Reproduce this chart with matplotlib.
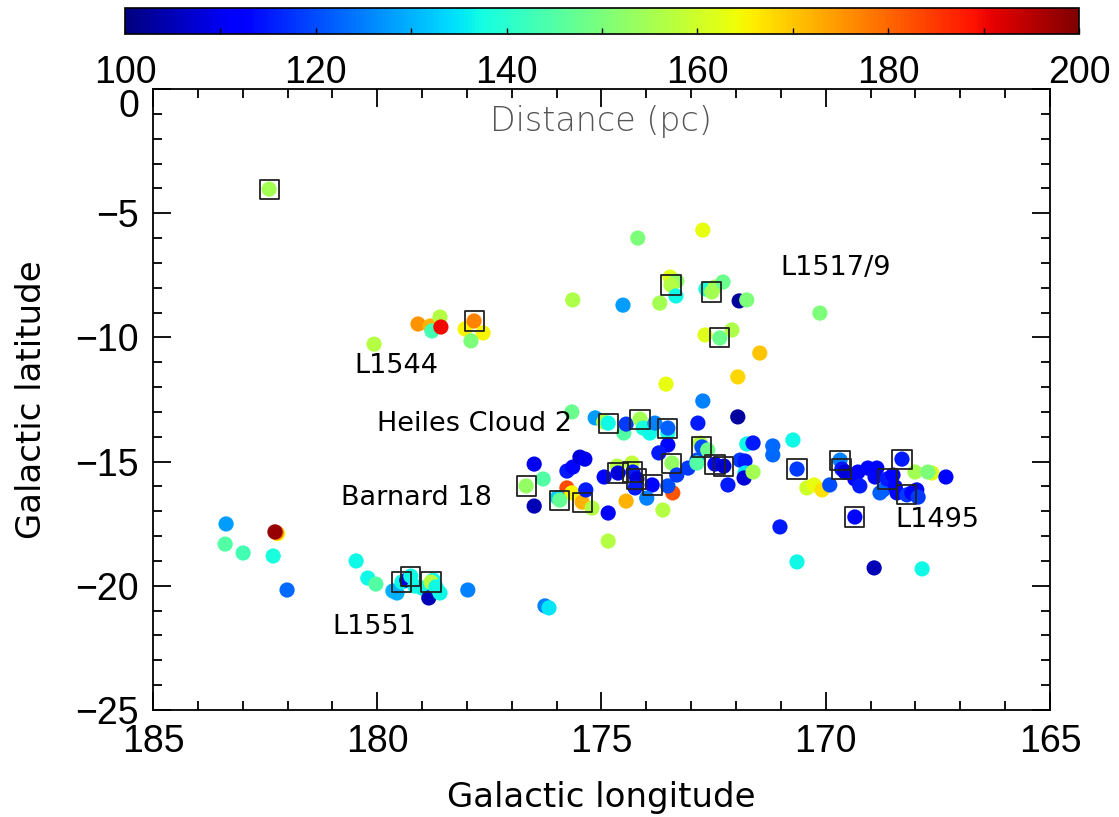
import numpy as np
import matplotlib
matplotlib.use("Agg")
import matplotlib.pyplot as plt
from matplotlib.ticker import MultipleLocator

# galactic longitude, latitude (deg), distance (pc), boxed flag
lon = [182.41,
       179.09, 178.82, 178.78, 178.60, 178.58, 180.07, 178.04, 177.84, 177.64, 177.91,
       174.19, 172.74, 173.47, 173.32, 173.45, 173.34, 174.52, 173.70, 172.67, 172.54,
       172.47, 172.29, 171.93, 171.76, 172.69, 172.36, 172.09, 171.47, 175.64, 171.96,
       173.56, 172.74, 171.96, 170.13,
       175.66, 175.14, 174.95, 174.85, 174.50, 174.45, 174.14, 174.07, 173.92, 173.81,
       173.52, 173.52, 173.52, 173.72, 172.85,
       176.50, 176.30, 176.68, 176.50, 175.77, 175.64, 175.48, 175.37, 175.77, 175.66,
       175.98, 175.93, 175.43, 175.35, 175.21, 174.85, 174.94, 174.65, 174.63, 174.32,
       174.30, 174.21, 174.25, 173.87, 173.99, 174.45, 173.63, 173.41, 173.52, 173.43,
       173.32, 173.07, 172.87, 172.80, 172.76, 172.63, 172.87, 172.47, 172.27, 172.18,
       174.85, 171.91, 171.80, 171.80, 171.82, 171.62, 171.76, 171.62, 171.18, 171.18,
       170.73, 170.64, 171.02, 170.42, 170.26, 170.08, 169.91, 169.68, 169.64, 169.57,
       169.35, 169.28, 169.35, 169.24, 169.06, 168.86, 168.90, 168.79, 168.72, 168.63,
       168.50, 168.45, 168.30, 168.41, 168.19, 168.08, 167.97, 167.94, 168.01, 167.63,
       167.72, 167.32, 170.64, 168.92, 167.85,
       183.37, 183.39, 182.99, 182.22, 182.25, 182.28, 182.32, 182.01, 180.47, 180.21,
       180.03, 179.65, 179.56, 179.45, 179.34, 179.25, 179.16, 179.00, 178.85, 178.75,
       178.80, 178.69, 178.60, 177.98, 176.26, 176.17]
lat = [-4.03,
       -9.46, -9.54, -9.74, -9.18, -9.58, -10.27, -9.66, -9.34, -9.82, -10.14,
       -6.00, -5.68, -7.57, -7.73, -7.89, -8.33, -8.70, -8.62, -8.05, -8.17,
       -7.97, -7.77, -8.53, -8.49, -9.90, -10.02, -9.70, -10.63, -8.49, -11.59,
       -11.88, -12.56, -13.20, -9.02,
       -13.00, -13.24, -13.40, -13.45, -13.85, -13.49, -13.29, -13.65, -13.85, -13.45,
       -13.85, -13.65, -14.33, -14.65, -13.45,
       -15.10, -15.70, -15.98, -16.79, -15.38, -15.22, -14.82, -14.90, -16.06, -16.26,
       -16.45, -16.55, -16.63, -16.14, -16.87, -17.07, -15.62, -15.18, -15.46, -15.06,
       -15.42, -15.70, -16.06, -15.94, -16.47, -16.59, -16.95, -16.26, -15.98, -15.06,
       -15.54, -15.26, -14.94, -14.25, -14.41, -14.53, -15.06, -15.10, -15.18, -15.94,
       -18.20, -14.94, -14.98, -15.46, -15.66, -15.42, -14.29, -14.25, -14.37, -14.73,
       -14.13, -15.30, -17.63, -16.06, -15.94, -16.14, -15.94, -14.94, -15.30, -15.42,
       -17.23, -15.42, -15.70, -15.98, -15.26, -15.26, -15.62, -16.26, -16.14, -15.70,
       -15.54, -16.02, -14.90, -16.26, -16.34, -16.26, -16.14, -16.43, -15.42, -15.46,
       -15.42, -15.62, -19.04, -19.28, -19.32,
       -17.51, -18.32, -18.68, -17.90, -17.86, -17.83, -18.80, -20.17, -19.00, -19.69,
       -19.93, -20.21, -20.29, -19.85, -19.77, -19.61, -20.01, -20.09, -20.49, -19.77,
       -19.85, -20.05, -20.29, -20.17, -20.81, -20.89]
dist = [155,
        175, 172, 143, 157, 190, 157, 165, 177, 165, 150,
        150, 163, 162, 152, 157, 137, 128, 155, 138, 155,
        155, 148, 103, 150, 162, 148, 156, 170, 156, 168,
        163, 125, 103, 150,
        148, 128, 157, 137, 145, 118, 155, 138, 137, 125,
        138, 122, 113, 115, 115,
        110, 145, 153, 105, 115, 113, 108, 110, 183, 165,
        133, 147, 172, 115, 157, 112, 113, 157, 108, 158,
        115, 108, 115, 113, 125, 172, 157, 182, 120, 153,
        118, 118, 120, 157, 120, 148, 145, 113, 107, 115,
        157, 118, 115, 135, 108, 155, 137, 115, 123, 123,
        137, 118, 115, 160, 163, 167, 120, 125, 115, 108,
        113, 113, 113, 115, 113, 113, 113, 122, 122, 115,
        113, 113, 115, 113, 118, 113, 113, 118, 155, 162,
        150, 113, 137, 105, 137,
        128, 145, 143, 165, 178, 198, 138, 123, 137, 137,
        145, 130, 130, 137, 108, 137, 137, 137, 105, 137,
        157, 137, 137, 125, 125, 135]
boxed = [1,
         0, 0, 0, 0, 0, 0, 0, 1, 0, 0,
         0, 0, 0, 0, 1, 0, 0, 0, 0, 1,
         0, 0, 0, 0, 0, 1, 0, 0, 0, 0,
         0, 0, 0, 0,
         0, 0, 0, 1, 0, 0, 1, 0, 0, 0,
         0, 1, 0, 0, 0,
         0, 0, 1, 0, 0, 0, 0, 0, 0, 0,
         0, 1, 1, 0, 0, 0, 0, 0, 1, 0,
         1, 1, 0, 1, 0, 0, 0, 0, 0, 1,
         0, 0, 0, 0, 1, 0, 0, 1, 1, 0,
         0, 0, 0, 0, 0, 0, 0, 0, 0, 0,
         0, 1, 0, 0, 0, 0, 0, 1, 1, 0,
         1, 0, 0, 0, 0, 0, 0, 0, 0, 1,
         0, 0, 1, 0, 1, 0, 0, 0, 0, 0,
         0, 0, 0, 0, 0,
         0, 0, 0, 0, 0, 0, 0, 0, 0, 0,
         0, 0, 0, 1, 0, 1, 0, 0, 0, 0,
         1, 0, 0, 0, 0, 0]

clouds = ["L1517/9", "L1544", "Heiles Cloud 2", "Barnard 18", "L1495", "L1551"]
cloud_lon = [171.0, 180.5, 180.0, 180.8, 168.45, 181.0]
cloud_lat = [-7.2, -11.15, -13.5, -16.45, -17.35, -21.65]

lon = np.array(lon)
lat = np.array(lat)
dist = np.array(dist)
boxed = np.array(boxed, dtype=bool)

num_font = ['Liberation Sans Narrow', 'Liberation Sans', 'DejaVu Sans']

fig = plt.figure(figsize=(11.19, 8.17), dpi=100)
ax = fig.add_axes([0.1367, 0.131, 0.8016, 0.760])
cax = fig.add_axes([0.1117, 0.9584, 0.8526, 0.0318])

sc = ax.scatter(lon, lat, c=dist, cmap='jet', vmin=100, vmax=200, s=120,
                edgecolors='none', zorder=2)
ax.scatter(lon[boxed], lat[boxed], marker='s', s=190, facecolors='none',
           edgecolors='#222222', linewidths=1.3, zorder=3)

for name, x, y in zip(clouds, cloud_lon, cloud_lat):
    ax.text(x, y, name, fontsize=19.5, ha='left', va='center', family='DejaVu Sans')

ax.text(0.5, 0.947, "Distance (pc)", transform=ax.transAxes, ha='center', va='center',
        fontsize=24, color='#555555', family='DejaVu Sans', fontweight='light')

ax.set_xlim(185, 165)
ax.set_ylim(-25, 0)
ax.xaxis.set_major_locator(MultipleLocator(5))
ax.xaxis.set_minor_locator(MultipleLocator(1))
ax.yaxis.set_major_locator(MultipleLocator(5))
ax.yaxis.set_minor_locator(MultipleLocator(1))
ax.tick_params(which='both', direction='in', top=True, right=True, width=1.3)
ax.tick_params(which='major', length=13, labelsize=27, pad=10)
ax.tick_params(which='minor', length=6.5)
for lab in ax.get_xticklabels() + ax.get_yticklabels():
    lab.set_family(num_font)
for sp in ax.spines.values():
    sp.set_linewidth(1.3)
ax.set_xlabel("Galactic longitude", fontsize=24.5, family='DejaVu Sans', labelpad=15)
ax.set_ylabel("Galactic latitude", fontsize=24.5, family='DejaVu Sans', labelpad=20)

cb = fig.colorbar(sc, cax=cax, orientation='horizontal')
cb.set_ticks(np.arange(100, 201, 20))
cb.ax.xaxis.set_minor_locator(MultipleLocator(10))
cax.tick_params(which='both', direction='in', length=4, width=1, top=False)
cax.tick_params(which='major', labelsize=27, pad=15)
for lab in cax.get_xticklabels():
    lab.set_family(num_font)
cb.outline.set_linewidth(1.2)

# the top "0" label sits just below the axis top, clear of the colorbar labels
fig.canvas.draw()
for tick in ax.yaxis.get_major_ticks():
    if abs(tick.get_loc()) < 1e-9:
        tick.label1.set_verticalalignment('top')

fig.savefig("out.png", dpi=100)
